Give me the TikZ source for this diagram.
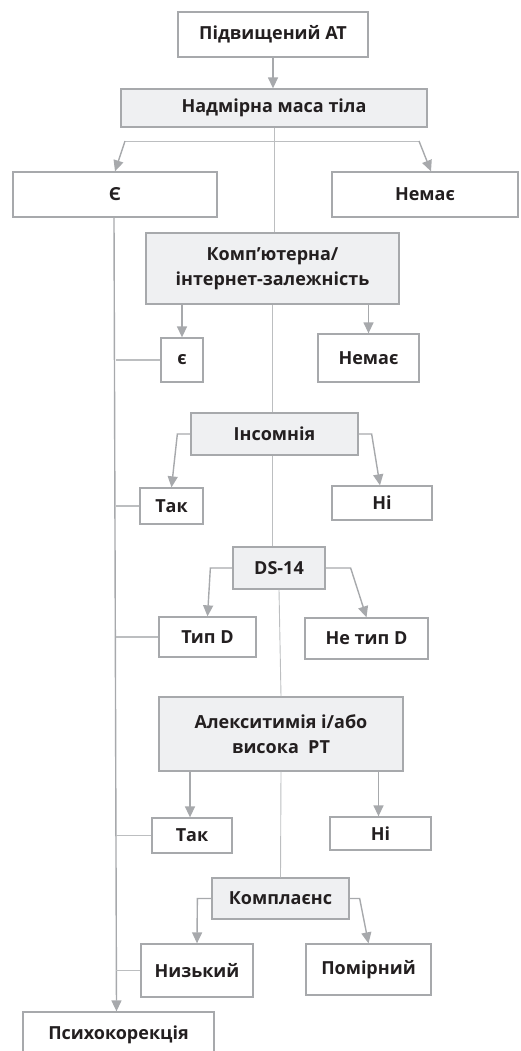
\documentclass[tikz,border=0pt]{standalone}
\usepackage{fontspec}
\setmainfont{Open Sans}
\usetikzlibrary{arrows.meta}
\definecolor{bord}{HTML}{A7A9AC}
\definecolor{fillg}{HTML}{EFF0F2}
\definecolor{txt}{HTML}{231F20}
\definecolor{linec}{HTML}{BCBEC0}
\begin{document}
\begin{tikzpicture}[x=1pt,y=-1pt,
  box/.style={draw=bord,line width=1.3pt,fill=white,text=txt,font=\fontsize{18}{25}\selectfont\bfseries,align=center,inner sep=0pt},
  gbox/.style={box,fill=fillg},
  arr/.style={draw=bord,line width=1.4pt,-{Triangle[width=10pt,length=11pt]}},
  thinl/.style={draw=linec,line width=0.9pt},
  tie/.style={draw=linec,line width=1.1pt}]
\useasboundingbox (0,0) rectangle (520,1051);
\clip (0,0) rectangle (520,1051);
\node[box,minimum width=190,minimum height=45] (b1) at (273,34.5) {Підвищений АТ};
\node[gbox,minimum width=306,minimum height=38] (b2) at (274,108) {Надмірна маса тіла};
\node[box,minimum width=204,minimum height=45] (e) at (115,194.5) {Є};
\node[box,minimum width=186,minimum height=45] (n1) at (425,194.5) {Немає};
\node[gbox,minimum width=253,minimum height=71] (komp) at (272.5,268.5) {Комп’ютерна/\\інтернет-залежність};
\node[box,minimum width=42,minimum height=44] (e2) at (182,360) {є};
\node[box,minimum width=101,minimum height=48] (n2) at (368.5,358) {Немає};
\node[gbox,minimum width=167,minimum height=42] (ins) at (274.5,434) {Інсомнія};
\node[box,minimum width=63,minimum height=36] (tak1) at (171.5,506) {Так};
\node[box,minimum width=100,minimum height=34] (ni1) at (382,503) {Ні};
\node[gbox,minimum width=92,minimum height=42] (ds) at (279,568) {DS-14};
\node[box,minimum width=97,minimum height=40] (tipd) at (207.5,637) {Тип D};
\node[box,minimum width=123,minimum height=41] (netipd) at (366.5,638.5) {Не тип D};
\node[gbox,minimum width=244,minimum height=74] (alex) at (281,734) {Алекситимія і/або\\висока~~РТ};
\node[box,minimum width=80,minimum height=35] (tak2) at (192,835.5) {Так};
\node[box,minimum width=101,minimum height=33] (ni2) at (380.5,833.5) {Ні};
\node[gbox,minimum width=137,minimum height=41] (kompl) at (280.5,898.5) {Комплаєнс};
\node[box,minimum width=112,minimum height=53] (nyz) at (197,970.5) {Низький};
\node[box,minimum width=125,minimum height=51] (pom) at (368.5,969.5) {Помірний};
\node[box,minimum width=191,minimum height=45] (psy) at (118.5,1034.5) {Психокорекція};
% connectors
\coordinate (sp) at (116,0);
\coordinate (h1) at (125,141);
\coordinate (h2) at (419,141);
\draw[arr] (b1.south) -- (b1.south |- b2.north);
\draw[thinl] (b2.south) -- (b2.south |- komp.north);
\draw[thinl] (h1) -- (h2);
\draw[arr] (h1) -- (e.north);
\draw[arr] (h2) -- ([xshift=6]n1.north);
\draw[arr] (komp.south -| e2.north) -- (e2.north);
\draw[arr] (komp.south -| n2.north) -- (n2.north);
\draw[thinl] (komp.south) -- (komp.south |- ins.north);
\draw[arr] (ins.west) -- ++(-13,0) -- (tak1.north);
\draw[arr] (ins.east) -- ++(13,0) -- ([xshift=-2]ni1.north);
\draw[thinl] ([xshift=-2]ins.south) -- ([xshift=-2]ins.south |- ds.north);
\draw[arr] (ds.west) -- ++(-22,0) -- (tipd.north);
\draw[arr] (ds.east) -- ++(25,0) -- (netipd.north);
\draw[thinl] (ds.south) -- (alex.north);
\draw[arr] ([xshift=-2]alex.south -| tak2.north) -- ([xshift=-2]tak2.north);
\draw[arr] ([xshift=-2]alex.south -| ni2.north) -- ([xshift=-2]ni2.north);
\draw[thinl] (alex.south) -- (kompl.north);
\draw[arr] (kompl.west) -- ++(-14,0) -- (nyz.north);
\draw[arr] (kompl.east) -- ++(10,0) -- (pom.north);
\draw[arr] ([xshift=-1]e.south) -- ([xshift=-2]psy.north);
\draw[tie] (e2.west) -- (e2.west -| sp);
\draw[tie] (tak1.west) -- (tak1.west -| sp);
\draw[tie] (tipd.west) -- (tipd.west -| sp);
\draw[tie] (tak2.west) -- (tak2.west -| sp);
\draw[tie] (nyz.west) -- (nyz.west -| sp);
\end{tikzpicture}
\end{document}
